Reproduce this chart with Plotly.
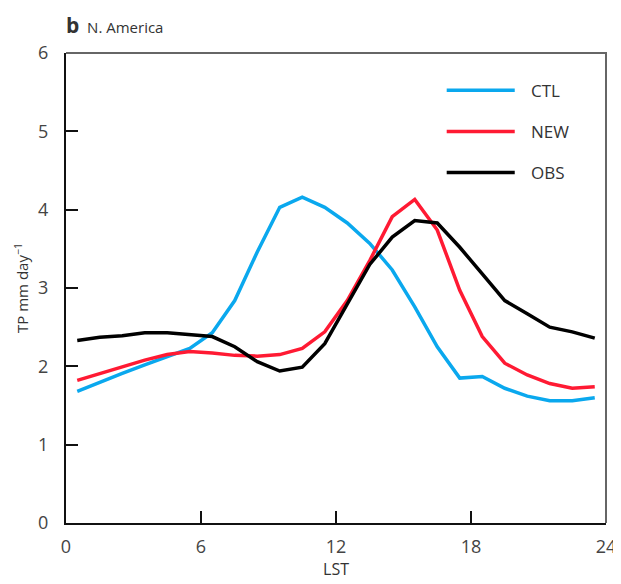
import plotly.graph_objects as go

hours = [h + 0.5 for h in range(24)]

ctl = [1.68, 1.80, 1.91, 2.02, 2.12, 2.23, 2.43, 2.84, 3.46, 4.03, 4.16, 4.03, 3.83, 3.57,
       3.23, 2.76, 2.25, 1.85, 1.87, 1.72, 1.62, 1.56, 1.56, 1.60]
new = [1.82, 1.91, 1.99, 2.08, 2.15, 2.19, 2.17, 2.14, 2.13, 2.15, 2.23, 2.44, 2.84, 3.35,
       3.91, 4.13, 3.74, 2.97, 2.38, 2.04, 1.89, 1.78, 1.72, 1.74]
obs = [2.33, 2.37, 2.39, 2.43, 2.43, 2.41, 2.38, 2.25, 2.06, 1.94, 1.99, 2.29, 2.80, 3.30,
       3.65, 3.86, 3.83, 3.52, 3.18, 2.84, 2.67, 2.50, 2.44, 2.36]

names = ["CTL", "NEW", "OBS"]
colors = ["#0AA8EE", "#FF1A33", "#000000"]
series = [ctl, new, obs]

fig = go.Figure()
for name, vals, col in zip(names, series, colors):
    fig.add_trace(go.Scatter(x=hours, y=vals, mode="lines", name=name,
                             line=dict(color=col, width=3.5), showlegend=False))

# hand-made legend (long line keys like the original)
leg_y = [0.921, 0.833, 0.746]
for name, col, yy in zip(names, colors, leg_y):
    fig.add_shape(type="line", xref="paper", yref="paper", x0=0.705, x1=0.831, y0=yy, y1=yy,
                  line=dict(color=col, width=3.5))
    fig.add_annotation(xref="paper", yref="paper", x=0.857, y=yy, text=name, showarrow=False,
                       xanchor="left", yanchor="middle", font=dict(size=17, color="#333"))

# grey top / right frame
fig.add_shape(type="path", xref="paper", yref="paper", path="M 0,1 L 1,1 L 1,0",
              line=dict(color="#666", width=2))

fig.add_annotation(xref="paper", yref="paper", x=0.0, y=1.0, yshift=28, xshift=-2,
                   text="<b><span style='font-size:21px'>b</span></b>  N. America",
                   showarrow=False, xanchor="left", yanchor="middle",
                   font=dict(size=15, color="#333"))

tickfont = dict(size=18, color="#444")
# page has an 8px body margin, so the figure is 8px smaller than the window
fig.update_layout(
    width=613, height=576,
    margin=dict(l=58, r=15, t=45, b=61),
    plot_bgcolor="white", paper_bgcolor="white",
    font=dict(family="Open Sans, Noto Sans, sans-serif", color="#333"),
    xaxis=dict(range=[0, 24], tickvals=[0, 6, 12, 18, 24], ticks="inside", ticklen=12,
               tickwidth=2, tickcolor="#111", showline=True, linecolor="#111", linewidth=2,
               showgrid=False, zeroline=False, tickfont=tickfont, ticklabelstandoff=6,
               automargin=False,
               title=dict(text="LST", font=dict(size=16, color="#333"), standoff=4)),
    yaxis=dict(range=[0, 6], tickvals=[0, 1, 2, 3, 4, 5, 6], ticks="inside", ticklen=12,
               tickwidth=2, tickcolor="#111", showline=True, linecolor="#111", linewidth=2,
               showgrid=False, zeroline=False, tickfont=tickfont, ticklabelstandoff=12,
               automargin=False,
               title=dict(text="TP mm day<sup>\u22121</sup>", font=dict(size=15, color="#333"),
                          standoff=6)),
)

fig.write_html("out.html")
